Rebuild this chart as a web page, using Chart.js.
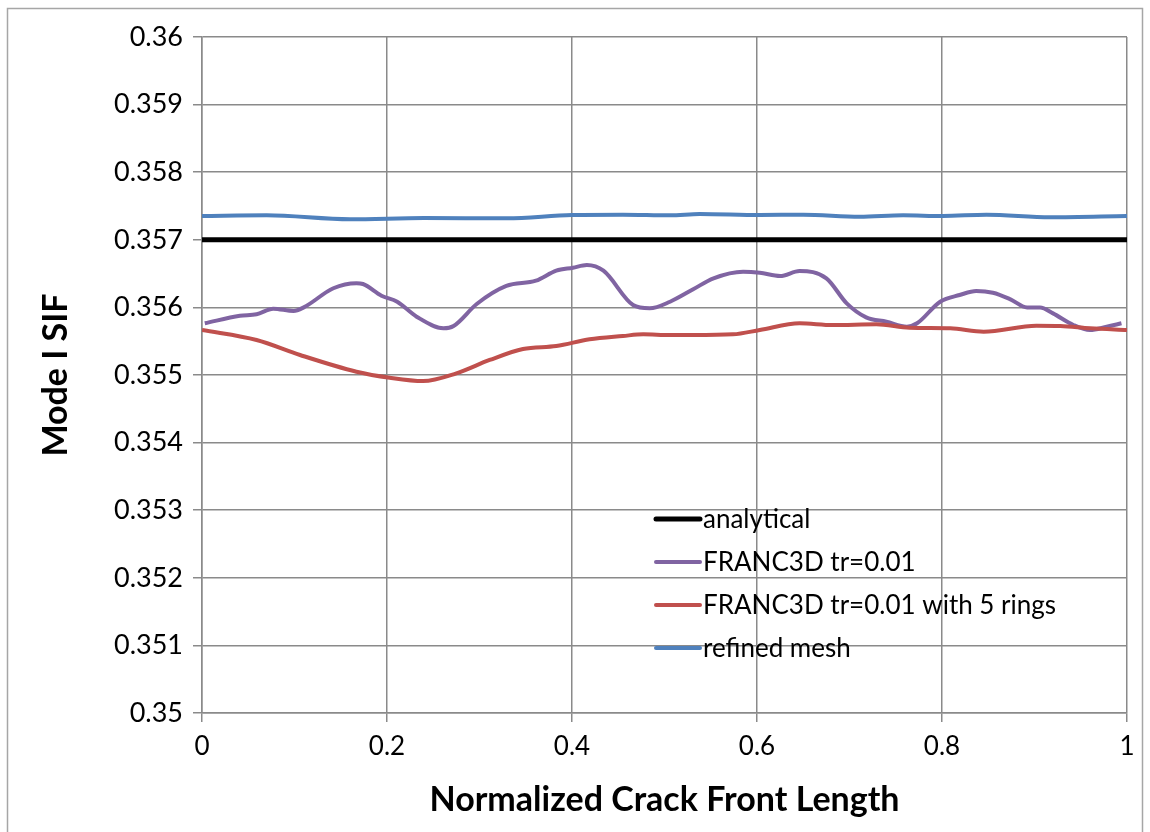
<!DOCTYPE html>
<html>
<head>
<meta charset="utf-8">
<script src="https://cdn.jsdelivr.net/npm/chart.js@4.4.1/dist/chart.umd.min.js"></script>
<style>
  html, body { margin: 0; padding: 0; background: #fff; }
  #wrap { position: relative; width: 1150px; height: 832px; }
</style>
</head>
<body>
<div id="wrap"><canvas id="c" width="1150" height="832"></canvas></div>
<script>
// ---- Data ----
const analyticalX = [0, 1];
const analyticalY = [0.357, 0.357];

const francX = [0.003,0.041,0.059,0.077,0.099,0.110,0.142,0.167,0.174,0.194,0.211,0.232,0.261,0.272,0.297,0.329,0.361,0.383,0.401,0.416,0.434,0.466,0.484,0.506,0.531,0.553,0.585,0.603,0.625,0.646,0.675,0.697,0.718,0.740,0.762,0.773,0.798,0.819,0.837,0.855,0.874,0.892,0.906,0.920,0.942,0.960,0.978,0.994];
const francY = [0.355765,0.355877,0.355898,0.355981,0.355947,0.356000,0.356283,0.356357,0.356346,0.356173,0.356084,0.355863,0.355691,0.355725,0.356050,0.356317,0.356395,0.356543,0.356587,0.356627,0.356543,0.356036,0.355987,0.356084,0.356268,0.356430,0.356528,0.356513,0.356464,0.356538,0.356430,0.356060,0.355853,0.355788,0.355714,0.355765,0.356084,0.356183,0.356243,0.356217,0.356120,0.356000,0.356000,0.355912,0.355740,0.355666,0.355714,0.355765];

const ringsX = [0.000,0.059,0.106,0.167,0.203,0.239,0.275,0.311,0.347,0.383,0.419,0.455,0.477,0.506,0.531,0.574,0.603,0.646,0.682,0.729,0.765,0.809,0.845,0.902,0.928,0.960,1.000];
const ringsY = [0.355666,0.355518,0.355296,0.355049,0.354960,0.354911,0.355025,0.355222,0.355385,0.355429,0.355528,0.355577,0.355602,0.355592,0.355592,0.355602,0.355666,0.355765,0.355740,0.355750,0.355700,0.355691,0.355641,0.355729,0.355725,0.355691,0.355666];

const refinedX = [0.000,0.070,0.160,0.240,0.330,0.400,0.455,0.506,0.538,0.603,0.650,0.711,0.758,0.801,0.848,0.917,1.000];
const refinedY = [0.357352,0.357362,0.357303,0.357322,0.357318,0.357367,0.357371,0.357362,0.357382,0.357367,0.357371,0.357342,0.357362,0.357352,0.357371,0.357333,0.357352];

const seriesNames = ['analytical', 'FRANC3D tr=0.01', 'FRANC3D tr=0.01 with 5 rings', 'refined mesh'];
const xTicks = [0, 0.2, 0.4, 0.6, 0.8, 1];
const yMin = 0.35, yMax = 0.36, yStep = 0.001;

const pts = (xs, ys) => xs.map((x, i) => ({ x: x, y: ys[i] }));

const FONT = 'Lato, "Open Sans", "Liberation Sans", sans-serif';
const GRID = '#8a8a8a';

const legendPlugin = {
  id: 'insideLegend',
  afterDraw(chart) {
    const ctx = chart.ctx;
    const x0 = 656, x1 = 700, tx = 703;
    const rows = [519, 562, 605, 648];
    ctx.save();
    ctx.font = '26px ' + FONT;
    ctx.textBaseline = 'middle';
    ctx.textAlign = 'left';
    chart.data.datasets.forEach((ds, i) => {
      const y = rows[i];
      ctx.strokeStyle = ds.borderColor;
      ctx.lineWidth = ds.borderWidth;
      ctx.lineCap = 'round';
      ctx.beginPath();
      ctx.moveTo(x0, y);
      ctx.lineTo(x1, y);
      ctx.stroke();
      ctx.fillStyle = '#000';
      ctx.fillText(ds.label, tx, y + 1);
    });
    ctx.restore();
  }
};

const borderPlugin = {
  id: 'outerBorder',
  beforeDraw(chart) {
    const ctx = chart.ctx;
    ctx.save();
    ctx.fillStyle = '#fff';
    ctx.fillRect(0, 0, chart.width, chart.height);
    ctx.strokeStyle = '#a6a6a6';
    ctx.lineWidth = 1.5;
    ctx.strokeRect(7.5, 8.5, 1135, 830);
    ctx.restore();
  }
};

new Chart(document.getElementById('c'), {
  type: 'line',
  data: {
    datasets: [
      { label: seriesNames[0], data: pts(analyticalX, analyticalY), borderColor: '#000000', borderWidth: 5, pointRadius: 0, tension: 0, order: 2 },
      { label: seriesNames[1], data: pts(francX, francY), borderColor: '#8064A2', borderWidth: 4, pointRadius: 0, cubicInterpolationMode: 'monotone', order: 1 },
      { label: seriesNames[2], data: pts(ringsX, ringsY), borderColor: '#C0504D', borderWidth: 4, pointRadius: 0, cubicInterpolationMode: 'monotone', order: 0 },
      { label: seriesNames[3], data: pts(refinedX, refinedY), borderColor: '#4F81BD', borderWidth: 4, pointRadius: 0, cubicInterpolationMode: 'monotone', order: 3 }
    ]
  },
  options: {
    responsive: false,
    animation: false,
    layout: { padding: { left: 36, right: 23, top: 37, bottom: 12 } },
    plugins: { legend: { display: false }, tooltip: { enabled: false } },
    scales: {
      x: {
        type: 'linear',
        min: 0, max: 1,
        afterBuildTicks(scale) { scale.ticks = xTicks.map(v => ({ value: v })); },
        afterFit(scale) { scale.height = 107; },
        grid: { color: GRID, lineWidth: 1.5, drawTicks: true, tickLength: 9, tickColor: GRID },
        border: { color: GRID, width: 1.5 },
        ticks: { color: '#000', font: { family: FONT, size: 26 }, padding: 9, maxRotation: 0, callback: v => String(v) },
        title: { display: true, text: 'Normalized Crack Front Length', color: '#000', font: { family: FONT, size: 34, weight: 'bold' }, padding: { top: 4, bottom: 0 } }
      },
      y: {
        min: yMin, max: yMax,
        ticks: { stepSize: yStep, color: '#000', font: { family: FONT, size: 27 }, padding: 10, callback: v => String(Number(v.toFixed(3))) },
        afterFit(scale) { scale.width = 166; },
        grid: { color: GRID, lineWidth: 1.5, drawTicks: true, tickLength: 9, tickColor: GRID },
        border: { color: GRID, width: 1.5 },
        title: { display: true, text: 'Mode I SIF', color: '#000', font: { family: FONT, size: 34, weight: 'bold' }, padding: { top: 0, bottom: 8 } }
      }
    }
  },
  plugins: [borderPlugin, legendPlugin]
});
</script>
</body>
</html>
